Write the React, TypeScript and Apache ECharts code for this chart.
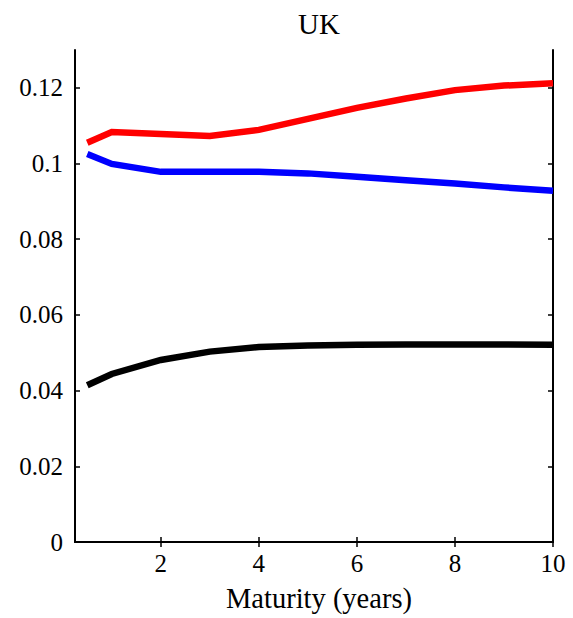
import React, { useEffect, useRef } from "react";
import * as echarts from "echarts";

const maturities = [0.5, 1, 2, 3, 4, 5, 6, 7, 8, 9, 10];
const redSeries = [0.1055, 0.1083, 0.1078, 0.1073, 0.1089, 0.1118, 0.1147, 0.1172, 0.1194, 0.1206, 0.1212];
const blueSeries = [0.1025, 0.0999, 0.0978, 0.0978, 0.0978, 0.0974, 0.0965, 0.0956, 0.0947, 0.0937, 0.0928];
const blackSeries = [0.0414, 0.0444, 0.0481, 0.0503, 0.0515, 0.0519, 0.0521, 0.0522, 0.0522, 0.0522, 0.0521];
const xTicks = [2, 4, 6, 8, 10];
const yTicks = [0, 0.02, 0.04, 0.06, 0.08, 0.1, 0.12];

const FONT = "Liberation Serif, Times New Roman, serif";

export default function App() {
  const ref = useRef<HTMLDivElement>(null);
  useEffect(() => {
    if (!ref.current) return;
    const chart = echarts.init(ref.current, null, { renderer: "svg" });
    const mk = (name: string, vals: number[], color: string) => ({
      name,
      type: "line",
      data: maturities.map((m, i) => [m, vals[i]]),
      showSymbol: false,
      symbol: "none",
      lineStyle: { color, width: 6.5, join: "miter" },
      itemStyle: { color },
      z: 3,
    });
    const axisLine = { show: true, lineStyle: { color: "#000", width: 2 } };
    chart.setOption({
      animation: false,
      backgroundColor: "#fff",
      title: {
        text: "UK",
        left: 314,
        top: 4,
        textAlign: "center",
        textStyle: { fontFamily: FONT, fontSize: 29, fontWeight: "normal", color: "#000" },
      },
      grid: { left: 75, right: 20, top: 50, bottom: 72 },
      xAxis: [
        {
          type: "value",
          min: 0.25,
          max: 10,
          position: "bottom",
          axisLine,
          axisTick: { show: true, inside: true, length: 5, customValues: xTicks, lineStyle: { color: "#000", width: 1.5 } },
          axisLabel: { customValues: xTicks, fontFamily: FONT, fontSize: 25, color: "#000", margin: 9 },
          splitLine: { show: false },
          name: "Maturity (years)",
          nameLocation: "middle",
          nameGap: 42,
          nameTextStyle: { fontFamily: FONT, fontSize: 28.5, color: "#000", padding: [0, 0, 0, 10] },
        },
        {
          type: "value",
          min: 0.25,
          max: 10,
          position: "top",
          axisLine,
          axisTick: { show: true, inside: true, length: 5, customValues: xTicks, lineStyle: { color: "#000", width: 1.5 } },
          axisLabel: { show: false },
          splitLine: { show: false },
        },
      ],
      yAxis: [
        {
          type: "value",
          min: 0,
          max: 0.13,
          position: "left",
          axisLine,
          axisTick: { show: true, inside: true, length: 5, customValues: yTicks, lineStyle: { color: "#000", width: 1.5 } },
          axisLabel: { customValues: yTicks, fontFamily: FONT, fontSize: 25, color: "#000", margin: 12 },
          splitLine: { show: false },
        },
        {
          type: "value",
          min: 0,
          max: 0.13,
          position: "right",
          axisLine,
          axisTick: { show: true, inside: true, length: 5, customValues: yTicks, lineStyle: { color: "#000", width: 1.5 } },
          axisLabel: { show: false },
          splitLine: { show: false },
        },
      ],
      series: [
        mk("red", redSeries, "#ff0000"),
        mk("blue", blueSeries, "#0000ff"),
        mk("black", blackSeries, "#000000"),
      ],
    });
    return () => chart.dispose();
  }, []);
  return (
    <div
      ref={ref}
      style={{ position: "fixed", left: 0, top: 0, width: 573, height: 618, background: "#fff" }}
    />
  );
}
